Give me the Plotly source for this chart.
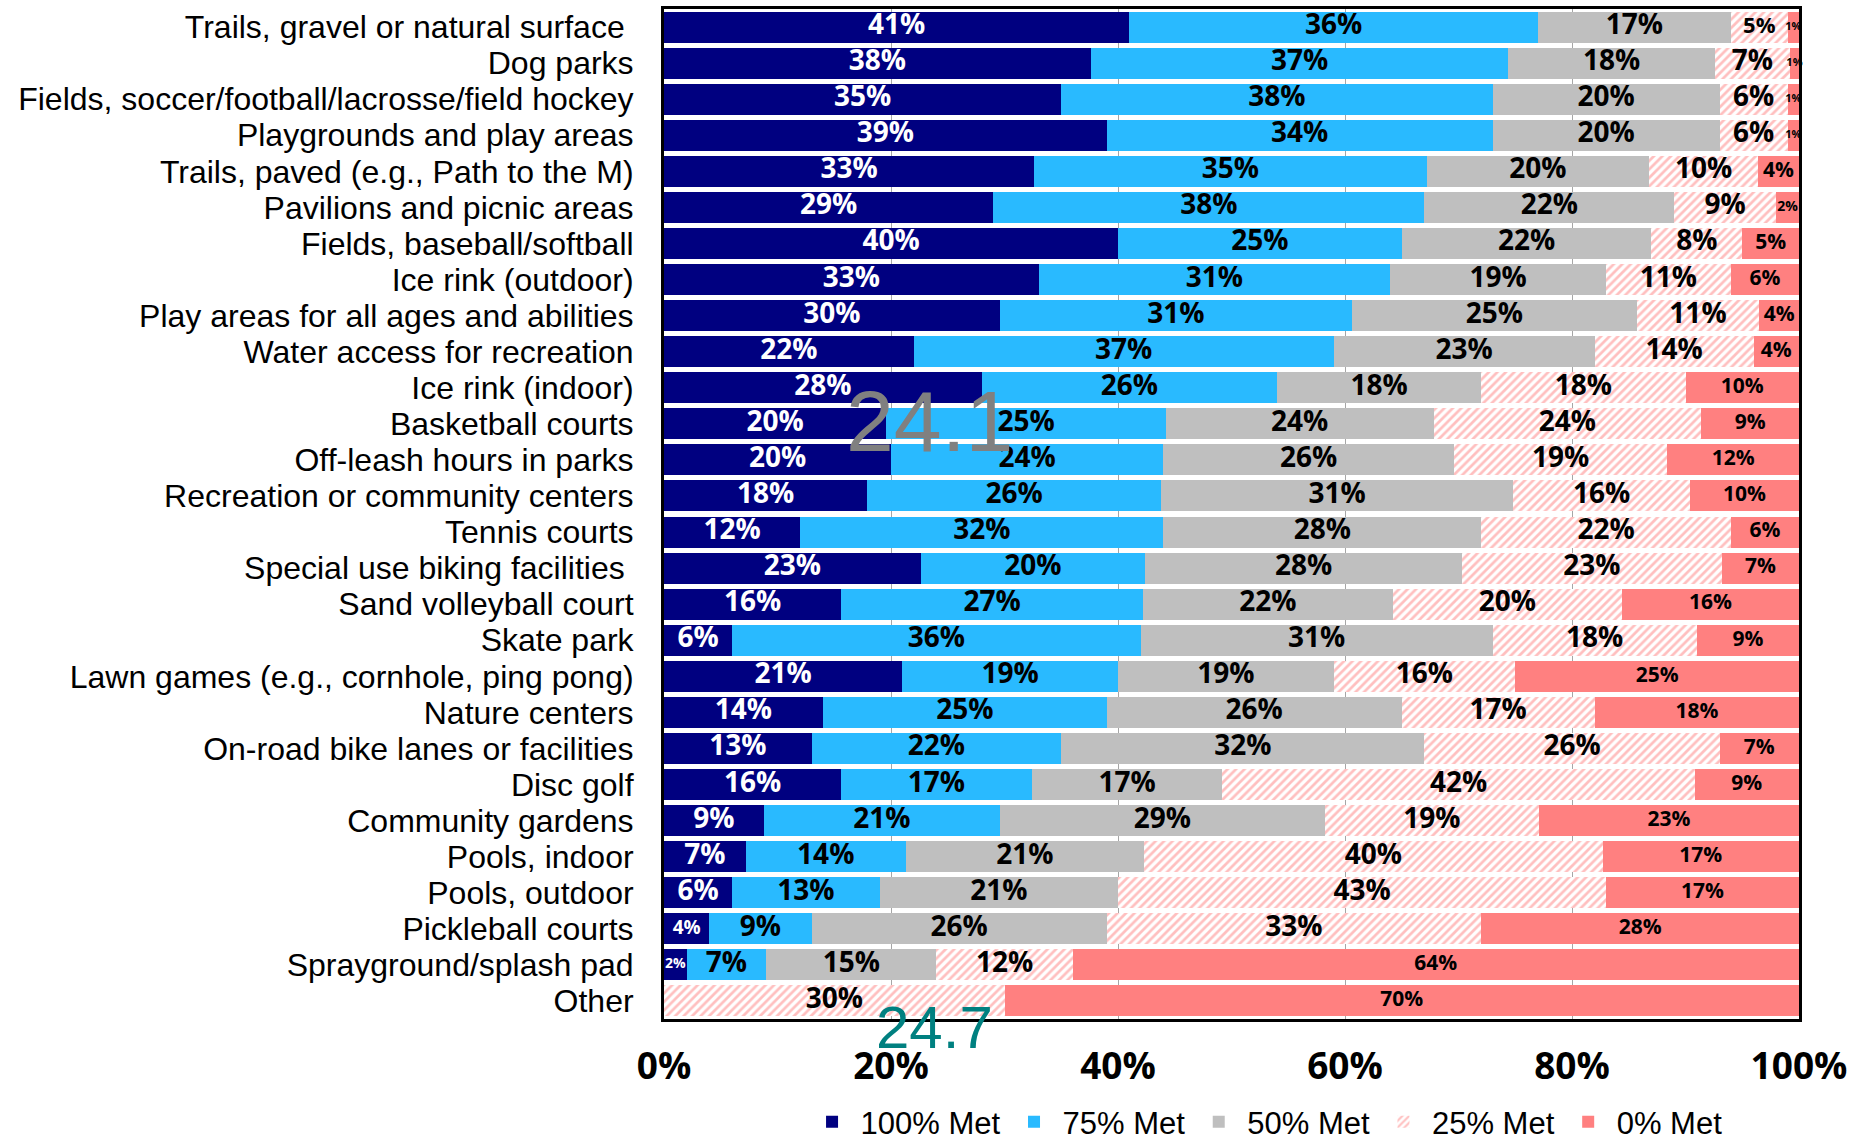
import plotly.graph_objects as go

categories = [
    "Trails, gravel or natural surface ",
    "Dog parks",
    "Fields, soccer/football/lacrosse/field hockey",
    "Playgrounds and play areas",
    "Trails, paved (e.g., Path to the M)",
    "Pavilions and picnic areas",
    "Fields, baseball/softball",
    "Ice rink (outdoor)",
    "Play areas for all ages and abilities",
    "Water access for recreation",
    "Ice rink (indoor)",
    "Basketball courts",
    "Off-leash hours in parks",
    "Recreation or community centers",
    "Tennis courts",
    "Special use biking facilities ",
    "Sand volleyball court",
    "Skate park",
    "Lawn games (e.g., cornhole, ping pong)",
    "Nature centers",
    "On-road bike lanes or facilities",
    "Disc golf",
    "Community gardens",
    "Pools, indoor",
    "Pools, outdoor",
    "Pickleball courts",
    "Sprayground/splash pad",
    "Other",
]

# shares (%); labels show them rounded
met_100 = [41, 37.6, 35, 39, 32.6, 29, 40, 33, 29.6, 22, 28, 19.6, 20.0, 17.9, 12, 22.6, 15.6, 6, 21, 14, 13, 15.6, 8.8, 7.2, 6, 4, 2, 0]
met_75 = [36, 36.8, 38, 34, 34.6, 38, 25, 31, 31.0, 37, 26, 24.6, 24.0, 25.9, 32, 19.8, 26.6, 36, 19, 25, 22, 16.8, 20.8, 14.1, 13, 9, 7, 0]
met_50 = [17, 18.2, 20, 20, 19.6, 22, 22, 19, 25.1, 23, 18, 23.6, 25.6, 31.0, 28, 27.9, 22.0, 31, 19, 26, 32, 16.8, 28.6, 21.0, 21, 26, 15, 0]
met_25 = [5, 6.6, 6, 6, 9.6, 9, 8, 11, 10.8, 14, 18, 23.6, 18.8, 15.6, 22, 22.9, 20.2, 18, 16, 17, 26, 41.6, 18.9, 40.4, 43, 33, 12, 30]
met_0 = [1, 0.8, 1, 1, 3.6, 2, 5, 6, 3.5, 4, 10, 8.6, 11.6, 9.6, 6, 6.8, 15.6, 9, 25, 18, 7, 9.2, 22.9, 17.3, 17, 28, 64, 70]

series_names = ["100% Met", "75% Met", "50% Met", "25% Met", "0% Met"]
series_values = [met_100, met_75, met_50, met_25, met_0]
x_tick_vals = [0, 20, 40, 60, 80, 100]
x_tick_text = ["0%", "20%", "40%", "60%", "80%", "100%"]
overlay_labels = ["24.1", "24.7"]

colors = ["#000080", "#29BAFF", "#BFBFBF", "#FFFFFF", "#FF8080"]
text_colors = ["#FFFFFF", "#000000", "#000000", "#000000", "#000000"]


def label_size(series_idx, v):
    r = round(v)
    if r <= 1:
        return 11
    if r == 2:
        return 14
    if series_idx == 4:
        return 21
    if r <= 4:
        return 19
    if series_idx == 3 and r <= 5:
        return 22
    return 28


fig = go.Figure()
for name, vals, col in zip(series_names, series_values, colors):
    marker = dict(color=col, line=dict(width=0))
    if name == "25% Met":
        marker["pattern"] = dict(shape="/", fgcolor="#FF8080", bgcolor="#FFFFFF",
                                 size=6, solidity=0.45)
    fig.add_trace(go.Bar(
        y=categories, x=vals, name=name, orientation="h",
        marker=marker, textposition="none", hoverinfo="skip",
    ))

# data labels, centred on each segment
cum = [0] * len(categories)
for si, (vals, tcol) in enumerate(zip(series_values, text_colors)):
    mids, texts, sizes = [], [], []
    for i, v in enumerate(vals):
        mids.append(cum[i] + v / 2)
        texts.append(f"{v:.0f}%" if v > 0 else "")
        sizes.append(label_size(si, v))
        cum[i] += v
    fig.add_trace(go.Scatter(
        x=mids, y=categories, mode="text", text=texts, textposition="middle center",
        textfont=dict(family="Open Sans", size=sizes, color=tcol, weight="bold"),
        showlegend=False, hoverinfo="skip", cliponaxis=False,
    ))

n = len(categories)
fig.update_layout(
    barmode="stack",
    bargap=0.14,
    width=1870, height=1140,
    margin=dict(l=664, r=71, t=9, b=121, pad=0, autoexpand=False),
    paper_bgcolor="white", plot_bgcolor="white",
    font=dict(family="Liberation Sans", color="#000000"),
    showlegend=True,
    legend=dict(orientation="h", x=0.53, xanchor="center", y=-0.102, yanchor="middle",
                font=dict(family="Liberation Sans", size=31, color="#000000"),
                traceorder="normal", tracegroupgap=0, itemwidth=47),
    xaxis=dict(range=[0, 100], tickvals=x_tick_vals, ticktext=x_tick_text,
               showgrid=True, gridcolor="#A6A6A6", gridwidth=1,
               showline=True, linecolor="black", linewidth=3, mirror=True,
               ticks="", ticklabelstandoff=13, automargin=False,
               tickfont=dict(family="Open Sans", size=37, color="black", weight="bold"),
               zeroline=False, fixedrange=True),
    yaxis=dict(range=[n - 0.5, -0.5], tickmode="array", tickvals=categories, ticktext=categories,
               showline=True, linecolor="black", linewidth=3, mirror=True,
               ticks="", ticklabelstandoff=21, automargin=False,
               tickfont=dict(family="Liberation Sans", size=32, color="black"),
               showgrid=False, fixedrange=True),
)

fig.add_annotation(text=overlay_labels[0], xref="paper", yref="paper", x=0.2335, y=0.592,
                   xanchor="center", yanchor="middle", showarrow=False,
                   font=dict(family="Liberation Sans", size=86, color="#808080"))
fig.add_annotation(text=overlay_labels[1], xref="paper", yref="paper", x=0.2383, y=-0.008,
                   xanchor="center", yanchor="middle", showarrow=False,
                   font=dict(family="Liberation Sans", size=60, color="#008080"))

fig.write_html("out.html", config={"displayModeBar": False},
               post_script="document.body.style.margin='0';")
